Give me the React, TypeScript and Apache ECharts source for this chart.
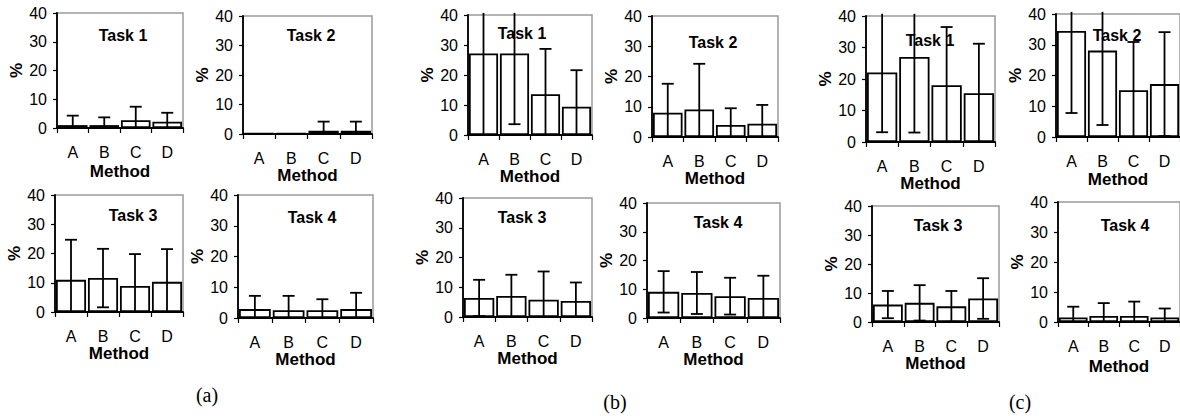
import React, { useEffect, useRef } from "react";
import * as echarts from "echarts";

// ---- data ----
const categories = ["A", "B", "C", "D"];
const taskNames = ["Task 1", "Task 2", "Task 3", "Task 4"];
const groupLabels = ["(a)", "(b)", "(c)"];
const yTicks = [0, 10, 20, 30, 40];

// group (a)
const a1Mean = [1.0, 1.0, 2.7, 2.2];
const a1Sd = [3.3, 2.7, 4.7, 3.1];
const a2Mean = [0.2, 0.2, 1.1, 1.1];
const a2Sd = [0, 0, 3.1, 3.1];
const a3Mean = [11.0, 11.6, 8.9, 10.3];
const a3Sd = [13.7, 10.0, 10.9, 11.2];
const a4Mean = [2.9, 2.5, 2.5, 2.9];
const a4Sd = [4.3, 4.7, 3.6, 5.3];
// group (b)
const b1Mean = [27.2, 27.2, 13.6, 9.4];
const b1Sd = [28.5, 23.6, 15.1, 12.2];
const b2Mean = [8.0, 9.1, 4.0, 4.4];
const b2Sd = [9.6, 15.1, 5.5, 6.2];
const b3Mean = [6.4, 7.1, 5.8, 5.4];
const b3Sd = [6.1, 7.1, 9.5, 6.2];
const b4Mean = [9.1, 8.7, 7.6, 7.0];
const b4Sd = [7.2, 7.3, 6.4, 7.7];
// group (c)
const c1Mean = [22.1, 27.0, 18.0, 15.5];
const c1Sd = [19.0, 24.0, 18.5, 15.7];
const c2Mean = [34.5, 28.1, 15.2, 17.2];
const c2Sd = [26.7, 24.2, 15.7, 16.9];
const c3Mean = [6.0, 6.6, 5.4, 8.1];
const c3Sd = [4.7, 6.1, 5.3, 7.0];
const c4Mean = [1.5, 2.0, 2.0, 1.5];
const c4Sd = [3.6, 4.3, 4.8, 3.0];

const means = [a1Mean, a2Mean, a3Mean, a4Mean, b1Mean, b2Mean, b3Mean, b4Mean, c1Mean, c2Mean, c3Mean, c4Mean];
const sds = [a1Sd, a2Sd, a3Sd, a4Sd, b1Sd, b2Sd, b3Sd, b4Sd, c1Sd, c2Sd, c3Sd, c4Sd];

// ---- layout (pixels) ----
// [left, top, right, bottom, titleX, titleY, methodOffset]
const panelLayout = [
  [57, 13, 183, 128, 123, 35, 44],
  [243, 16, 372, 134, 311, 35, 38],
  [55, 195, 183, 312, 133, 215, 41],
  [238, 195, 373, 318, 312, 217, 39],
  [468, 15, 592, 135, 522, 33, 38],
  [652, 16, 778, 137, 713, 42, 38],
  [463, 198, 592, 317, 522, 217, 37],
  [647, 203, 780, 318, 718, 222, 40],
  [866, 16, 995, 142, 930, 40, 41],
  [1056, 14, 1182, 137, 1117, 35, 43],
  [872, 206, 999, 322, 938, 225, 40],
  [1058, 202, 1184, 322, 1125, 225, 45],
];
const groupLabelPos = [
  [207, 395],
  [615, 402],
  [1020, 402],
];

const SANS = "'Liberation Sans', Arial, sans-serif";
const SERIF = "'Liberation Serif', 'Times New Roman', serif";
const CLIP_TOP = 40.7;
const CAP = 6;
const LW = 1.8;

function buildOption() {
  const grid: any[] = [];
  const xAxis: any[] = [];
  const yAxis: any[] = [];
  const series: any[] = [];
  const graphic: any[] = [];

  panelLayout.forEach((p, i) => {
    const [l, t, r, b, tx, ty, mOff] = p;
    grid.push({
      left: l,
      top: t,
      width: r - l,
      height: b - t,
      show: true,
      borderColor: "#9a9a9a",
      borderWidth: 1.5,
      backgroundColor: "transparent",
    });
    xAxis.push({
      type: "category",
      gridIndex: i,
      data: categories,
      boundaryGap: true,
      axisLine: { show: true, lineStyle: { color: "#000", width: LW } },
      axisTick: { show: true, alignWithLabel: false, length: 5, lineStyle: { color: "#000", width: 1.2 } },
      axisLabel: { color: "#000", fontSize: 16, fontFamily: SANS, margin: 16 },
      splitLine: { show: false },
      name: "Method",
      nameLocation: "middle",
      nameGap: mOff - 9,
      nameTextStyle: { color: "#000", fontSize: 17, fontWeight: "bold", fontFamily: SANS },
    });
    yAxis.push({
      type: "value",
      gridIndex: i,
      min: yTicks[0],
      max: yTicks[yTicks.length - 1],
      interval: 10,
      axisLine: { show: true, lineStyle: { color: "#000", width: LW } },
      axisTick: { show: true, length: 4, lineStyle: { color: "#000", width: 1.2 } },
      axisLabel: { color: "#000", fontSize: 16, fontFamily: SANS, margin: 10 },
      splitLine: { show: false },
      name: "%",
      nameLocation: "middle",
      nameRotate: 90,
      nameGap: 31,
      nameTextStyle: { color: "#000", fontSize: 17, fontWeight: "bold", fontFamily: SANS },
    });
    series.push({
      type: "bar",
      xAxisIndex: i,
      yAxisIndex: i,
      data: means[i],
      barCategoryGap: "6%",
      itemStyle: { color: "#fff", borderColor: "#000", borderWidth: LW },
      z: 2,
    });
    series.push({
      type: "custom",
      xAxisIndex: i,
      yAxisIndex: i,
      z: 3,
      clip: false,
      encode: { x: 0, y: 1 },
      data: means[i].map((m, k) => [k, m, sds[i][k]]),
      renderItem: (params: any, api: any) => {
        const x = api.value(0);
        const m = api.value(1);
        const s = api.value(2);
        if (!s) return { type: "group", children: [] };
        const hi = m + s;
        const lo = Math.max(0, m - s);
        const top = Math.min(hi, CLIP_TOP);
        const pT = api.coord([x, top]);
        const pB = api.coord([x, lo]);
        const st = { stroke: "#000", lineWidth: LW };
        const children: any[] = [
          { type: "line", shape: { x1: pT[0], y1: pT[1], x2: pB[0], y2: pB[1] }, style: st },
        ];
        if (hi <= CLIP_TOP) {
          children.push({ type: "line", shape: { x1: pT[0] - CAP, y1: pT[1], x2: pT[0] + CAP, y2: pT[1] }, style: st });
        }
        if (m - s > 0) {
          children.push({ type: "line", shape: { x1: pB[0] - CAP, y1: pB[1], x2: pB[0] + CAP, y2: pB[1] }, style: st });
        }
        return { type: "group", children };
      },
    });
    graphic.push({
      type: "text",
      x: tx,
      y: ty,
      z: 1,
      style: {
        text: taskNames[i % 4],
        font: `bold 16px ${SANS}`,
        fill: "#000",
        textAlign: "center",
        textVerticalAlign: "middle",
        align: "center",
        verticalAlign: "middle",
      },
    });
  });

  groupLabels.forEach((g, i) => {
    graphic.push({
      type: "text",
      x: groupLabelPos[i][0],
      y: groupLabelPos[i][1],
      style: {
        text: g,
        font: `20px ${SERIF}`,
        fill: "#000",
        textAlign: "center",
        textVerticalAlign: "middle",
        align: "center",
        verticalAlign: "middle",
      },
    });
  });

  return {
    animation: false,
    backgroundColor: "#fff",
    grid,
    xAxis,
    yAxis,
    series,
    graphic,
  };
}

export default function App() {
  const ref = useRef<HTMLDivElement>(null);
  useEffect(() => {
    if (!ref.current) return;
    const chart = echarts.init(ref.current, null, { renderer: "svg" });
    chart.setOption(buildOption() as any);
    return () => chart.dispose();
  }, []);
  return (
    <div
      ref={ref}
      style={{ position: "absolute", left: 0, top: 0, width: 1180, height: 416, background: "#fff" }}
    />
  );
}
